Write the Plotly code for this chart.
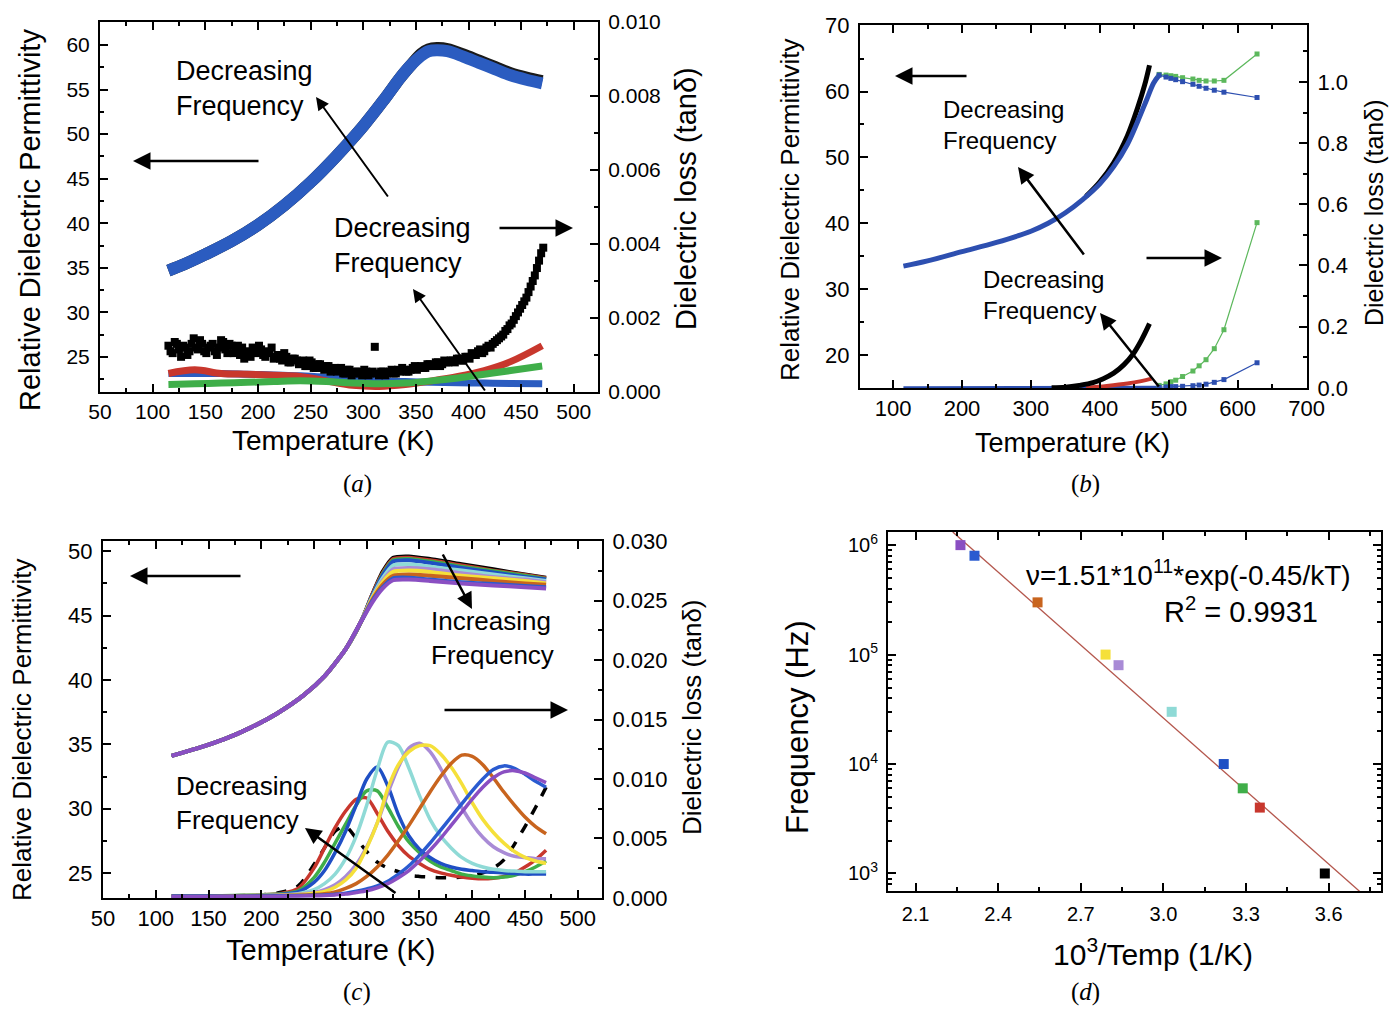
import plotly.graph_objects as go

W, H = 1390, 1009
SANS = "Arial, 'Liberation Sans', Helvetica, sans-serif"
SERIF = "'Times New Roman', 'Liberation Serif', serif"

# ---------------- Panel (a) data ----------------
T_A_EPS = [115, 130, 150, 175, 200, 225, 250, 275, 300, 320, 335, 345, 355, 362, 370, 380, 395, 410, 425, 440, 455, 470]
EPS_A_BLUE = [34.7, 35.4, 36.5, 38.0, 39.8, 42.0, 44.6, 47.6, 50.9, 53.9, 56.3, 57.7, 58.8, 59.3, 59.4, 59.3, 58.7, 58.0, 57.3, 56.6, 56.1, 55.7]
EPS_A_BLACK = [34.7, 35.4, 36.5, 38.0, 39.8, 42.0, 44.6, 47.6, 50.9, 53.9, 56.3, 57.7, 59.0, 59.5, 59.65, 59.55, 58.95, 58.25, 57.55, 56.85, 56.35, 55.95]

T_A_LOSS = [115, 140, 165, 190, 215, 240, 265, 290, 315, 340, 365, 390, 415, 440, 470]
LOSS_A_RED_E3 = [0.50, 0.60, 0.50, 0.48, 0.45, 0.42, 0.30, 0.18, 0.15, 0.20, 0.30, 0.42, 0.58, 0.82, 1.25]
LOSS_A_GREEN_E3 = [0.20, 0.22, 0.24, 0.26, 0.28, 0.30, 0.28, 0.24, 0.22, 0.24, 0.30, 0.38, 0.48, 0.58, 0.70]
LOSS_A_BLUE_E3 = [0.50, 0.50, 0.50, 0.48, 0.46, 0.44, 0.40, 0.35, 0.30, 0.28, 0.26, 0.25, 0.24, 0.23, 0.22]

T_A_BLACK = list(range(115, 472, 4))
LOSS_A_BLACK_E3 = [
    1.25, 1.05, 1.30, 0.95, 1.20, 1.10, 1.45, 1.15, 1.30, 1.05,
    1.25, 1.10, 1.20, 1.35, 1.05, 1.25, 1.15, 1.00, 0.90, 1.10,
    1.20, 1.05, 1.15, 0.95, 1.05, 0.90, 1.00, 0.85, 0.95, 0.80,
    0.90, 0.75, 0.85, 0.70, 0.80, 0.65, 0.75, 0.60, 0.70, 0.60,
    0.55, 0.65, 0.50, 0.60, 0.50, 0.55, 0.45, 0.55, 0.50, 1.22,
    0.45, 0.55, 0.50, 0.60, 0.50, 0.55, 0.60, 0.55, 0.65, 0.60,
    0.70, 0.65, 0.75, 0.70, 0.80, 0.75, 0.80, 0.85, 0.80, 0.90,
    0.85, 0.95, 1.05, 1.00, 1.15, 1.10, 1.25, 1.30, 1.40, 1.50,
    1.65, 1.80, 1.95, 2.15, 2.35, 2.55, 2.85, 3.15, 3.55, 3.90,
]
T_A_BLACK2 = list(range(117, 472, 4))
LOSS_A_BLACK2_E3 = [
    1.10, 1.35, 1.15, 1.25, 1.00, 1.30, 1.20, 1.40, 1.10, 1.20,
    1.30, 1.00, 1.40, 1.15, 1.30, 1.05, 1.25, 1.20, 1.05, 0.95,
    1.10, 1.25, 1.00, 1.10, 1.20, 0.95, 0.90, 1.05, 0.80, 0.90,
    0.85, 0.80, 0.70, 0.85, 0.65, 0.75, 0.65, 0.70, 0.55, 0.65,
    0.60, 0.50, 0.60, 0.45, 0.55, 0.50, 0.60, 0.45, 0.55, 0.50,
    0.55, 0.45, 0.55, 0.50, 0.60, 0.65, 0.55, 0.60, 0.70, 0.65,
    0.65, 0.75, 0.70, 0.80, 0.70, 0.85, 0.80, 0.85, 0.90, 0.85,
    0.95, 0.90, 1.00, 1.10, 1.05, 1.20, 1.20, 1.35, 1.45, 1.55,
    1.70, 1.85, 2.05, 2.25, 2.45, 2.70, 3.00, 3.35, 3.75,
]

# ---------------- Panel (b) data ----------------
T_B_EPS = [115, 150, 200, 250, 300, 325, 350, 375, 400, 420, 440, 455, 468, 478, 486]
EPS_B_BLUE = [33.5, 34.3, 35.7, 37.1, 38.8, 40.0, 41.6, 43.6, 46.0, 48.6, 52.0, 55.5, 58.8, 61.3, 62.5]
T_B_EPS_BLACK = [380, 400, 420, 440, 455, 465, 472]
EPS_B_BLACK = [44.1, 46.3, 49.2, 53.3, 57.6, 61.0, 64.0]
T_B_TAIL = [486, 496, 503, 510, 520, 535, 544, 554, 566, 580, 628]
EPS_B_BLUE_TAIL = [62.5, 62.2, 62.0, 61.8, 61.5, 61.1, 60.8, 60.5, 60.2, 59.9, 59.1]
EPS_B_GREEN_TAIL = [62.6, 62.5, 62.4, 62.3, 62.1, 61.9, 61.7, 61.6, 61.6, 61.7, 65.7]

T_B_LOSS_BLACK = [330, 350, 370, 390, 405, 420, 435, 448, 460, 472]
LOSS_B_BLACK = [0.0, 0.002, 0.008, 0.017, 0.030, 0.048, 0.076, 0.110, 0.155, 0.210]
T_B_LOSS_RED = [380, 410, 440, 460, 475]
LOSS_B_RED = [0.0, 0.006, 0.014, 0.022, 0.030]
T_B_LOSS_BASE = [115, 300, 486]
LOSS_B_BASE = [0.0, 0.0, 0.002]
LOSS_B_GREEN_TAIL = [0.008, 0.013, 0.020, 0.025, 0.037, 0.055, 0.072, 0.092, 0.128, 0.190, 0.540]
LOSS_B_BLUE_TAIL = [0.002, 0.003, 0.004, 0.004, 0.005, 0.007, 0.009, 0.012, 0.018, 0.027, 0.082]

# ---------------- Panel (c) data ----------------
FREQ_NAMES = ["1 kHz", "4 kHz", "6 kHz", "10 kHz", "30 kHz", "80 kHz", "100 kHz", "300 kHz", "800 kHz", "1 MHz"]
COLORS = ["#000000", "#c8372d", "#3fae49", "#1f4fc4", "#8fdad6", "#a98bd6", "#f5e03a", "#c8641e", "#2a5bd0", "#8a4fc2"]

T_C_EPS = [115, 140, 165, 190, 215, 240, 260, 280, 295, 305, 315, 325, 340, 360, 390, 420, 450, 470]
EPS_C_LOW = [34.1, 34.7, 35.4, 36.3, 37.4, 38.8, 40.3, 42.4, 44.6]
EPS_C_HIGH = [
    [46.6, 48.4, 49.5, 49.6, 49.4, 49.0, 48.6, 48.2, 47.95],
    [46.6, 48.3, 49.4, 49.5, 49.3, 48.9, 48.5, 48.15, 47.9],
    [46.5, 48.2, 49.3, 49.4, 49.2, 48.8, 48.45, 48.1, 47.85],
    [46.5, 48.1, 49.2, 49.3, 49.1, 48.7, 48.35, 48.0, 47.8],
    [46.4, 47.9, 48.9, 49.0, 48.8, 48.5, 48.2, 47.9, 47.7],
    [46.3, 47.7, 48.6, 48.7, 48.6, 48.3, 48.0, 47.8, 47.6],
    [46.3, 47.6, 48.4, 48.5, 48.4, 48.1, 47.9, 47.7, 47.5],
    [46.2, 47.4, 48.1, 48.2, 48.1, 47.9, 47.7, 47.5, 47.4],
    [46.1, 47.2, 47.9, 47.95, 47.8, 47.6, 47.45, 47.3, 47.2],
    [46.0, 47.1, 47.75, 47.8, 47.7, 47.5, 47.35, 47.2, 47.1],
]

T_C_LOSS = [115, 150, 200, 220, 235, 250, 260, 270, 280, 290, 300, 310, 320, 330, 340, 350,
            360, 370, 380, 390, 400, 410, 420, 430, 440, 450, 460, 470]
LOSS_C_1K_E3 = [0.15, 0.15, 0.25, 0.5, 1.0, 2.8, 4.2, 5.6, 6.0, 5.0, 3.9, 3.0, 2.5, 2.2, 1.9, 1.8,
                1.75, 1.7, 1.7, 1.75, 1.85, 2.1, 2.5, 3.2, 4.5, 6.0, 7.6, 9.3]
LOSS_C_4K_E3 = [0.15, 0.15, 0.25, 0.4, 0.8, 2.5, 4.2, 5.9, 7.3, 8.3, 8.4, 7.1, 5.6, 4.4, 3.5, 2.9,
                2.4, 2.1, 1.9, 1.75, 1.65, 1.6, 1.65, 1.8, 2.1, 2.6, 3.2, 4.0]
LOSS_C_6K_E3 = [0.15, 0.15, 0.25, 0.35, 0.6, 1.7, 3.0, 4.6, 6.2, 7.8, 9.0, 9.0, 7.6, 6.0, 4.7, 3.8,
                3.1, 2.6, 2.3, 2.0, 1.85, 1.75, 1.7, 1.75, 1.9, 2.2, 2.6, 3.1]
LOSS_C_10K_E3 = [0.15, 0.15, 0.2, 0.3, 0.5, 1.3, 2.3, 3.8, 5.6, 7.8, 10.0, 11.0, 9.4, 7.0, 5.2, 4.1,
                 3.4, 2.9, 2.6, 2.4, 2.3, 2.2, 2.15, 2.1, 2.05, 2.0, 2.0, 2.0]
LOSS_C_30K_E3 = [0.15, 0.15, 0.2, 0.25, 0.35, 0.7, 1.2, 2.0, 3.3, 5.2, 7.8, 10.8, 13.1, 12.8, 10.9, 8.6,
                 6.6, 5.2, 4.2, 3.4, 2.9, 2.6, 2.4, 2.3, 2.25, 2.2, 2.2, 2.2]
LOSS_C_80K_E3 = [0.15, 0.15, 0.2, 0.22, 0.3, 0.45, 0.7, 1.1, 1.8, 2.8, 4.3, 6.3, 8.8, 11.0, 12.6, 13.0,
                 12.3, 10.9, 9.2, 7.6, 6.2, 5.1, 4.3, 3.8, 3.5, 3.4, 3.3, 3.3]
LOSS_C_100K_E3 = [0.15, 0.15, 0.2, 0.22, 0.28, 0.4, 0.55, 0.9, 1.5, 2.5, 4.2, 6.3, 9.2, 11.2, 12.3, 12.8,
                  12.8, 12.1, 11.0, 9.6, 8.0, 6.6, 5.5, 4.6, 3.9, 3.4, 3.1, 2.9]
LOSS_C_300K_E3 = [0.15, 0.15, 0.18, 0.2, 0.22, 0.28, 0.35, 0.5, 0.8, 1.2, 1.8, 2.6, 3.6, 4.8, 6.1, 7.5,
                  8.9, 10.2, 11.3, 12.0, 11.9, 11.2, 10.1, 8.9, 7.8, 6.8, 6.0, 5.4]
LOSS_C_800K_E3 = [0.15, 0.15, 0.15, 0.18, 0.2, 0.22, 0.25, 0.3, 0.4, 0.55, 0.75, 1.0, 1.4, 2.0, 2.7, 3.6,
                  4.6, 5.7, 6.8, 7.9, 9.0, 10.0, 10.8, 11.1, 10.9, 10.4, 9.8, 9.3]
LOSS_C_1M_E3 = [0.1, 0.1, 0.12, 0.14, 0.16, 0.18, 0.2, 0.25, 0.32, 0.45, 0.6, 0.85, 1.2, 1.7, 2.3, 3.1,
                4.0, 5.0, 6.1, 7.2, 8.3, 9.3, 10.1, 10.6, 10.7, 10.5, 10.1, 9.7]
LOSS_C_ALL = [LOSS_C_1K_E3, LOSS_C_4K_E3, LOSS_C_6K_E3, LOSS_C_10K_E3, LOSS_C_30K_E3,
              LOSS_C_80K_E3, LOSS_C_100K_E3, LOSS_C_300K_E3, LOSS_C_800K_E3, LOSS_C_1M_E3]

# ---------------- Panel (d) data ----------------
INV_T = [3.586, 3.350, 3.288, 3.219, 3.030, 2.837, 2.790, 2.543, 2.314, 2.263]
PEAK_FREQ = [1e3, 4e3, 6e3, 1e4, 3e4, 8e4, 1e5, 3e5, 8e5, 1e6]
FIT_X = [2.235, 3.72]
FIT_Y = [1.32e6, 6.6e2]


def e3(vals):
    return [v * 1e-3 for v in vals]


fig = go.Figure()

# ----- (a) traces -----
fig.add_trace(go.Scatter(x=T_A_EPS, y=EPS_A_BLACK, mode="lines", line=dict(color="#1a1a1a", width=12, shape="spline"),
                         xaxis="x", yaxis="y"))
fig.add_trace(go.Scatter(x=T_A_EPS, y=EPS_A_BLUE, mode="lines", line=dict(color="#2b5cc0", width=12, shape="spline"),
                         xaxis="x", yaxis="y"))
fig.add_trace(go.Scatter(x=T_A_LOSS, y=e3(LOSS_A_BLUE_E3), mode="lines", line=dict(color="#2b5cc0", width=7, shape="spline"),
                         xaxis="x", yaxis="y2"))
fig.add_trace(go.Scatter(x=T_A_LOSS, y=e3(LOSS_A_RED_E3), mode="lines", line=dict(color="#c8372d", width=7, shape="spline"),
                         xaxis="x", yaxis="y2"))
fig.add_trace(go.Scatter(x=T_A_LOSS, y=e3(LOSS_A_GREEN_E3), mode="lines", line=dict(color="#3fae49", width=7, shape="spline"),
                         xaxis="x", yaxis="y2"))
fig.add_trace(go.Scatter(x=T_A_BLACK, y=e3(LOSS_A_BLACK_E3), mode="markers",
                         marker=dict(symbol="square", size=8, color="black"), xaxis="x", yaxis="y2"))
fig.add_trace(go.Scatter(x=T_A_BLACK2, y=e3(LOSS_A_BLACK2_E3), mode="markers",
                         marker=dict(symbol="square", size=8, color="black"), xaxis="x", yaxis="y2"))

# ----- (b) traces -----
fig.add_trace(go.Scatter(x=T_B_EPS_BLACK, y=EPS_B_BLACK, mode="lines", line=dict(color="black", width=5, shape="spline"),
                         xaxis="x2", yaxis="y3"))
fig.add_trace(go.Scatter(x=T_B_EPS, y=EPS_B_BLUE, mode="lines", line=dict(color="#2d4fb0", width=5, shape="spline"),
                         xaxis="x2", yaxis="y3"))
fig.add_trace(go.Scatter(x=T_B_TAIL, y=EPS_B_GREEN_TAIL, mode="lines+markers", line=dict(color="#5cb85c", width=1.2),
                         marker=dict(symbol="square", size=5, color="#5cb85c"), xaxis="x2", yaxis="y3"))
fig.add_trace(go.Scatter(x=T_B_TAIL, y=EPS_B_BLUE_TAIL, mode="lines+markers", line=dict(color="#2d4fb0", width=1.2),
                         marker=dict(symbol="square", size=5, color="#2d4fb0"), xaxis="x2", yaxis="y3"))
fig.add_trace(go.Scatter(x=T_B_LOSS_BASE, y=LOSS_B_BASE, mode="lines", line=dict(color="#2d4fb0", width=3),
                         xaxis="x2", yaxis="y4"))
fig.add_trace(go.Scatter(x=T_B_LOSS_RED, y=LOSS_B_RED, mode="lines", line=dict(color="#c8372d", width=4, shape="spline"),
                         xaxis="x2", yaxis="y4"))
fig.add_trace(go.Scatter(x=T_B_LOSS_BLACK, y=LOSS_B_BLACK, mode="lines", line=dict(color="black", width=5, shape="spline"),
                         xaxis="x2", yaxis="y4"))
fig.add_trace(go.Scatter(x=T_B_TAIL, y=LOSS_B_GREEN_TAIL, mode="lines+markers", line=dict(color="#5cb85c", width=1.2),
                         marker=dict(symbol="square", size=5, color="#5cb85c"), xaxis="x2", yaxis="y4"))
fig.add_trace(go.Scatter(x=T_B_TAIL, y=LOSS_B_BLUE_TAIL, mode="lines+markers", line=dict(color="#2d4fb0", width=1.2),
                         marker=dict(symbol="square", size=5, color="#2d4fb0"), xaxis="x2", yaxis="y4"))

# ----- (c) traces -----
for name, col, high in zip(FREQ_NAMES, COLORS, EPS_C_HIGH):
    fig.add_trace(go.Scatter(x=T_C_EPS, y=EPS_C_LOW + high, mode="lines", name=name,
                             line=dict(color=col, width=4, shape="spline", smoothing=0.6),
                             xaxis="x3", yaxis="y5"))
for i, (name, col, vals) in enumerate(zip(FREQ_NAMES, COLORS, LOSS_C_ALL)):
    fig.add_trace(go.Scatter(x=T_C_LOSS, y=e3(vals), mode="lines", name=name,
                             line=dict(color=col, width=3.5, shape="spline", smoothing=0.8,
                                       dash="dash" if i == 0 else "solid"),
                             xaxis="x3", yaxis="y6"))

# ----- (d) traces -----
fig.add_trace(go.Scatter(x=FIT_X, y=FIT_Y, mode="lines", line=dict(color="#b4574d", width=1.3),
                         xaxis="x4", yaxis="y7"))
fig.add_trace(go.Scatter(x=INV_T, y=PEAK_FREQ, mode="markers",
                         marker=dict(symbol="square", size=10, color=COLORS), xaxis="x4", yaxis="y7"))


def axis(domain, rng, dtick, tick0, minor_dtick, anchor, mirror=False, fmt=None, size=21, standoff=4, **kw):
    d = dict(domain=domain, range=rng, dtick=dtick, tick0=tick0, anchor=anchor, automargin=False,
             showline=True, linecolor="black", linewidth=2, mirror=mirror,
             ticks="inside", ticklen=8, tickwidth=2, tickcolor="black",
             showgrid=False, zeroline=False, ticklabelstandoff=standoff,
             tickfont=dict(family=SANS, size=size, color="black"),
             minor=dict(ticks="inside", ticklen=4, tickwidth=1.5, tickcolor="black",
                        dtick=minor_dtick, tick0=tick0, showgrid=False))
    if fmt:
        d["tickformat"] = fmt
    d.update(kw)
    return d


def xd(a, b):
    return [a / W, b / W]


def yd(bottom, top):
    return [1 - bottom / H, 1 - top / H]


minor_log = [k * 10 ** e for e in range(2, 7) for k in range(2, 10)]

fig.update_layout(
    width=W, height=H, margin=dict(l=0, r=0, t=0, b=0, autoexpand=False),
    paper_bgcolor="white", plot_bgcolor="white", showlegend=False,
    font=dict(family=SANS, color="black"),
    # (a)
    xaxis=axis(xd(100, 598), [50, 523], 50, 0, 25, "y", mirror="ticks", standoff=0),
    yaxis=axis(yd(392, 22), [21.07, 62.58], 5, 0, 2.5, "x"),
    yaxis2=axis(yd(392, 22), [-0.000001, 0.010001], 0.002, 0, 0.001, "x", fmt=".3f",
                overlaying="y", side="right"),
    # (b)
    xaxis2=axis(xd(860, 1307), [52, 700.5], 100, 0, 50, "y3", mirror="ticks", size=22, standoff=0),
    yaxis3=axis(yd(388, 25), [15, 70.1], 10, 0, 5, "x2", size=22),
    yaxis4=axis(yd(388, 25), [-0.0005, 1.186], 0.2, 0, 0.1, "x2", fmt=".1f", size=22,
                overlaying="y3", side="right"),
    # (c)
    xaxis3=axis(xd(103, 602), [50, 523], 50, 0, 25, "y5", mirror="ticks", size=22, standoff=0),
    yaxis5=axis(yd(898, 541), [23.06, 50.8], 5, 0, 2.5, "x3", size=22),
    yaxis6=axis(yd(898, 541), [-0.00001, 0.03001], 0.005, 0, 0.0025, "x3", fmt=".3f", size=22,
                overlaying="y5", side="right"),
    # (d)
    xaxis4=axis(xd(888, 1381), [2.0, 3.79], 0.3, 2.1, 0.15, "y7", mirror="ticks", fmt=".1f", size=20),
    yaxis7=dict(domain=yd(891, 532), type="log", range=[2.84, 6.12], anchor="x4", automargin=False,
                showline=True, linecolor="black", linewidth=2, mirror="ticks",
                ticks="inside", ticklen=8, tickwidth=2, tickcolor="black",
                showgrid=False, zeroline=False, ticklabelstandoff=4,
                tickvals=[1e3, 1e4, 1e5, 1e6],
                ticktext=["10<sup>3</sup>", "10<sup>4</sup>", "10<sup>5</sup>", "10<sup>6</sup>"],
                tickfont=dict(family=SANS, size=20, color="black"),
                minor=dict(ticks="inside", ticklen=4, tickwidth=1.5, tickcolor="black",
                           tickvals=minor_log, showgrid=False)),
)


def txt(x, y, s, size, angle=0, xanchor="center", yanchor="middle", family=SANS, align="center"):
    return dict(x=x / W, y=1 - y / H, xref="paper", yref="paper", text=s, showarrow=False,
                textangle=angle, xanchor=xanchor, yanchor=yanchor, align=align,
                font=dict(family=family, size=size, color="black"))


def arrow(head, tail, width=2.0, size=1.3):
    return dict(x=head[0] / W, y=1 - head[1] / H, xref="paper", yref="paper",
                ax=tail[0] - head[0], ay=tail[1] - head[1], axref="pixel", ayref="pixel",
                text="", showarrow=True, arrowhead=2, arrowsize=size, arrowwidth=width,
                arrowcolor="black")


DF = "Decreasing<br>Frequency"
ann = [
    # (a)
    txt(30, 220, "Relative Dielectric Permittivity", 29, angle=-90),
    txt(686, 199, "Dielectric loss (tanδ)", 29, angle=-90),
    txt(333, 441, "Temperature (K)", 28),
    txt(174, 88, DF, 27, xanchor="left", align="left"),
    txt(332, 245, DF, 27, xanchor="left", align="left"),
    arrow((133, 161), (260, 161), 2.5, 1.4),
    arrow((573, 228), (498, 228), 2.5, 1.4),
    arrow((316, 97), (389, 198), 2, 1.3),
    arrow((413, 289), (486, 392), 2, 1.3),
    txt(357, 484, "(<i>a</i>)", 25, family=SERIF),
    # (b)
    txt(790, 210, "Relative Dielectric Permittivity", 26, angle=-90),
    txt(1374, 213, "Dielectric loss (tanδ)", 25, angle=-90),
    txt(1072, 443, "Temperature (K)", 27),
    txt(941, 125, DF, 24, xanchor="left", align="left"),
    txt(981, 295, DF, 24, xanchor="left", align="left"),
    arrow((895, 76), (968, 76), 2.5, 1.4),
    arrow((1222, 258), (1145, 258), 2.5, 1.4),
    arrow((1018, 167), (1085, 256), 2.5, 1.3),
    arrow((1100, 313), (1160, 388), 2.5, 1.3),
    txt(1085, 484, "(<i>b</i>)", 25, family=SERIF),
    # (c)
    txt(22, 730, "Relative Dielectric Permittivity", 26, angle=-90),
    txt(692, 717, "Dielectric loss (tanδ)", 26, angle=-90),
    txt(331, 950, "Temperature (K)", 29),
    txt(429, 638, "Increasing<br>Frequency", 26, xanchor="left", align="left"),
    txt(174, 803, DF, 26, xanchor="left", align="left"),
    arrow((130, 576), (242, 576), 2.5, 1.4),
    arrow((568, 710), (443, 710), 2.5, 1.4),
    arrow((472, 609), (442, 553), 2.5, 1.3),
    arrow((305, 828), (397, 894), 2.5, 1.3),
    txt(357, 992, "(<i>c</i>)", 25, family=SERIF),
    # (d)
    txt(797, 727, "Frequency (Hz)", 31, angle=-90),
    txt(1153, 952, "10<sup>3</sup>/Temp (1/K)", 30),
    txt(1024, 573, "ν=1.51*10<sup>11</sup>*exp(-0.45/kT)", 28, xanchor="left", align="left"),
    txt(1162, 610, "R<sup>2</sup> = 0.9931", 29, xanchor="left", align="left"),
    txt(1085, 992, "(<i>d</i>)", 25, family=SERIF),
]
fig.update_layout(annotations=ann)

fig.write_html("out.html", config={"displayModeBar": False},
               post_script="document.body.style.margin='0';document.body.style.overflow='hidden';")
